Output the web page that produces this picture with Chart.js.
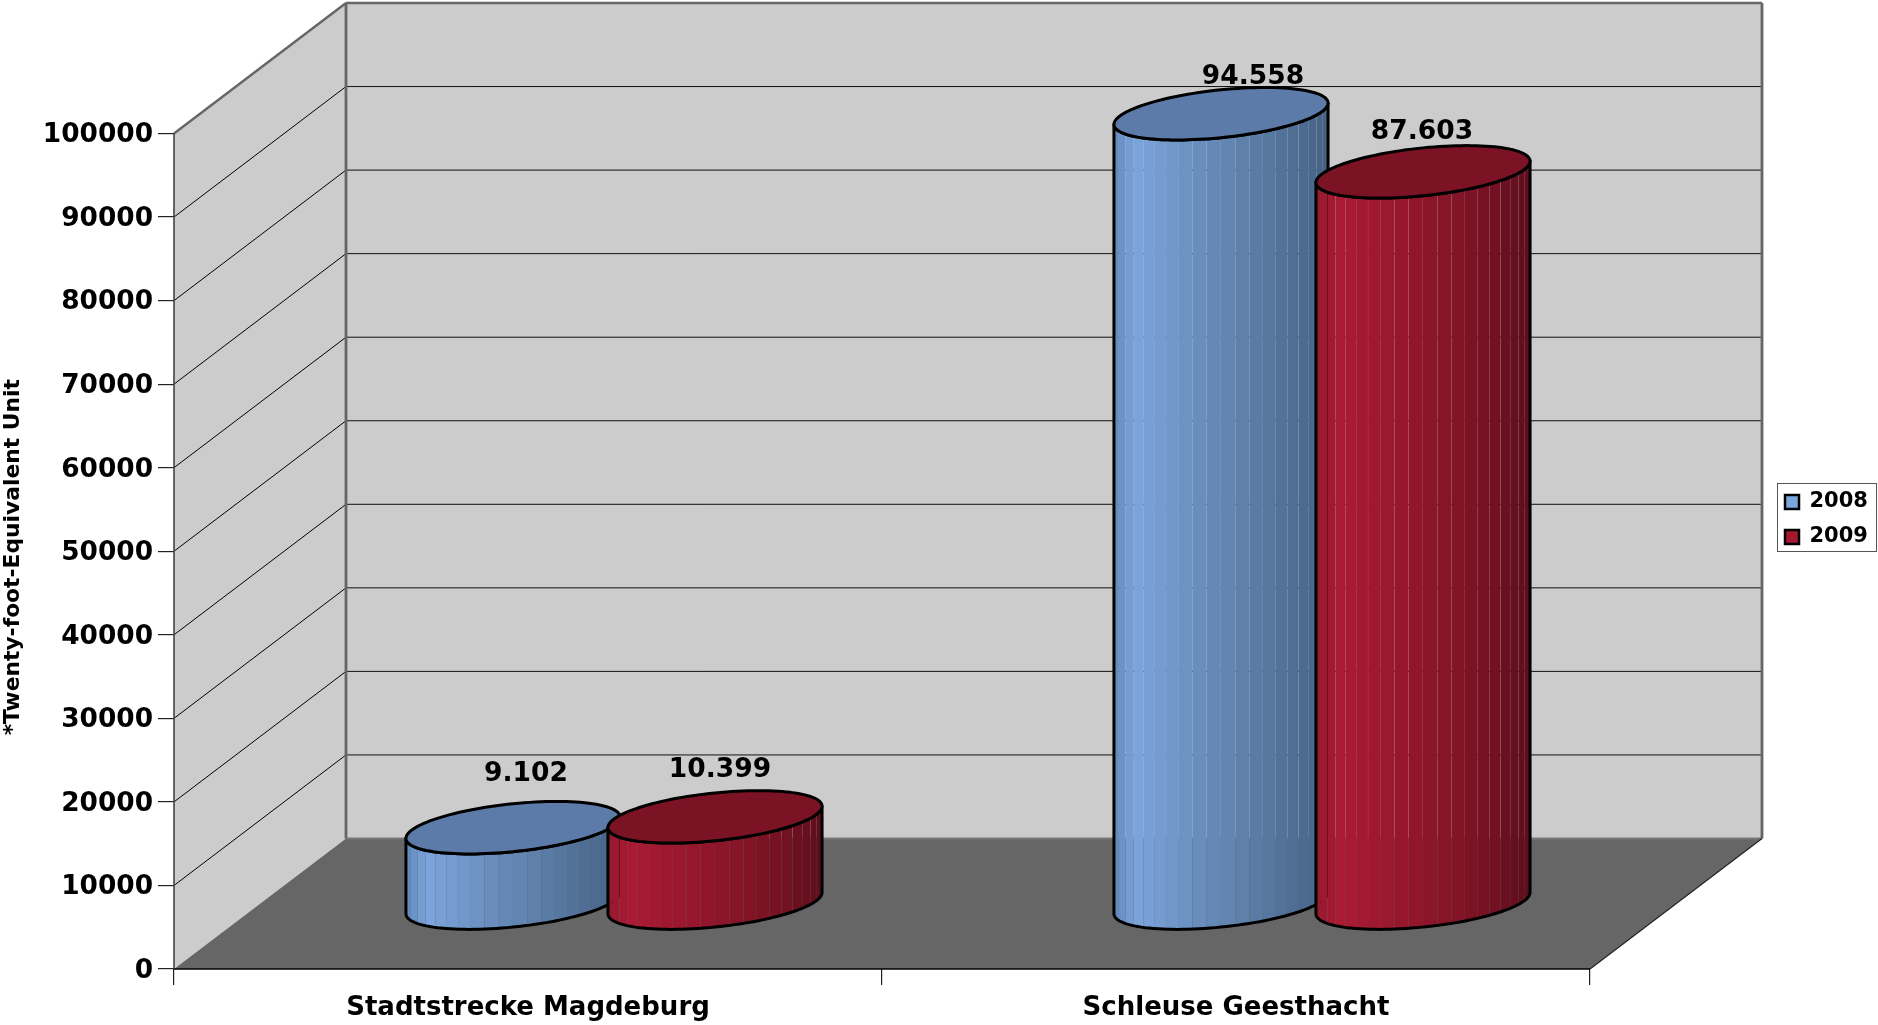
<!DOCTYPE html>
<html><head><meta charset="utf-8">
<style>html,body{margin:0;padding:0;background:#fff}canvas{display:block}</style>
<script src="https://cdn.jsdelivr.net/npm/chart.js@4"></script>
</head><body><canvas id="c" width="1878" height="1025"></canvas>
<script>
const categories = ['Stadtstrecke Magdeburg', 'Schleuse Geesthacht'];
const seriesNames = ['2008', '2009'];
const values2008 = [9102, 94558];
const values2009 = [10399, 87603];
const axisTitle = '*Twenty-foot-Equivalent Unit';

// styling
const FONT = '"DejaVu Sans"';
const DEPTH_X = 172, DEPTH_Y = 130.5;
const labelNudge = [[[13,-54],[32,-37]],[[5,-47],[-1,-40]]];
const sideStops = [
  [[0,[96,136,186]],[0.1,[124,165,220]],[0.35,[108,145,195]],[0.6,[94,128,170]],[1,[70,98,133]]],
  [[0,[150,24,44]],[0.12,[170,26,52]],[0.5,[143,22,42]],[0.8,[118,18,35]],[1,[92,14,28]]]
];
const topColors = ['#5c7ba8', '#7b1324'];
const fills = ['#7ba6dc', '#a5182f'];

function mix(stops, f){
  for(let i=1;i<stops.length;i++){
    if(f<=stops[i][0]){
      const a=stops[i-1],b=stops[i],t=(f-a[0])/(b[0]-a[0]);
      return 'rgb('+a[1].map((v,k)=>Math.round(v+(b[1][k]-v)*t)).join(',')+')';
    }
  }
  return 'rgb('+stops[stops.length-1][1].join(',')+')';
}
function drawCylinder(ctx, cx, yTop, yBase, rx, ds){
  const tilt = rx*0.1, k = rx*0.2237;
  const px = (c,t)=>[cx+rx*Math.cos(t), c - tilt*Math.cos(t) + k*Math.sin(t)];
  const N = 60;
  const side = ()=>{
    ctx.beginPath();
    let p = px(yTop,Math.PI); ctx.moveTo(p[0],p[1]);
    p = px(yBase,Math.PI); ctx.lineTo(p[0],p[1]);
    for(let i=1;i<=N;i++){ p=px(yBase,Math.PI*(1-i/N)); ctx.lineTo(p[0],p[1]); }
    p = px(yTop,0); ctx.lineTo(p[0],p[1]);
    for(let i=1;i<=N;i++){ p=px(yTop,Math.PI*i/N); ctx.lineTo(p[0],p[1]); }
    ctx.closePath();
  };
  ctx.save(); side(); ctx.clip();
  const M = 20, top = yTop-2*k, bot = yBase+2*k;
  const edge = i => -(0.6*Math.cos(Math.PI*i/M) + 0.4*(1-2*i/M));
  for(let i=0;i<M;i++){
    const x0 = cx + rx*edge(i), x1 = cx + rx*edge(i+1);
    ctx.fillStyle = mix(sideStops[ds], ((x0+x1)/2-(cx-rx))/(2*rx));
    ctx.fillRect(x0, top, x1-x0-0.15, bot-top);
  }
  ctx.restore();
  ctx.lineJoin='round'; ctx.strokeStyle='#000'; ctx.lineWidth=3;
  side(); ctx.stroke();
  ctx.beginPath();
  for(let i=0;i<=2*N;i++){ const p=px(yTop,Math.PI*i/N); i?ctx.lineTo(p[0],p[1]):ctx.moveTo(p[0],p[1]); }
  ctx.closePath(); ctx.fillStyle=topColors[ds]; ctx.fill(); ctx.stroke();
}
function line(ctx,x0,y0,x1,y1,color,w){
  ctx.beginPath();ctx.moveTo(x0,y0);ctx.lineTo(x1,y1);ctx.strokeStyle=color;ctx.lineWidth=w;ctx.stroke();
}
const scene = {
  id:'scene',
  beforeLayout(chart){
    const lg = chart.legend;
    if(lg && !lg.__pinned){ const f=lg.fit; lg.fit=function(){f.call(this); this.width=0;}; lg.__pinned=true; }
  },
  afterLayout(chart){
    const lg = chart.legend, P = lg.options.labels.padding;
    lg.left = 1785-P; lg.right = 1877; lg.width = 1877-lg.left;
    lg.top = 491.5-P; lg.bottom = 1025; lg.height = lg.bottom-lg.top;
    const y = chart.scales.y;
    if(!y.__shifted){
      const dt = y.drawTitle;
      y.drawTitle = function(){ const c=this.ctx; c.save(); c.translate(0,6); dt.call(this); c.restore(); };
      y.__shifted = true;
    }
  },
  beforeDatasetsDraw(chart){
    const ctx=chart.ctx, a=chart.chartArea, y=chart.scales.y;
    const L=a.left,R=a.right,B=a.bottom,T=a.top,dx=DEPTH_X,dy=DEPTH_Y;
    ctx.save();
    ctx.fillStyle='#cccccc';
    ctx.beginPath();ctx.moveTo(L,B);ctx.lineTo(L+dx,B-dy);ctx.lineTo(L+dx,T-dy);ctx.lineTo(L,T);ctx.closePath();ctx.fill();
    ctx.fillRect(L+dx,T-dy,R-L,B-T);
    ctx.fillStyle='#666666';
    ctx.beginPath();ctx.moveTo(L,B);ctx.lineTo(L+dx,B-dy);ctx.lineTo(R+dx,B-dy);ctx.lineTo(R,B);ctx.closePath();ctx.fill();
    y.ticks.forEach(t=>{
      if(t.value===0||t.value===y.max) return;
      const p=y.getPixelForValue(t.value);
      line(ctx,L,p,L+dx,p-dy,'#000',1);
      line(ctx,L+dx,p-dy,R+dx,p-dy,'#111',1);
    });
    line(ctx,L+dx,B-dy,R+dx,B-dy,'#777',2);
    line(ctx,L,T,L+dx,T-dy,'#666',2.4);
    line(ctx,L+dx,T-dy,R+dx,T-dy,'#666',2.6);
    line(ctx,L+dx,T-dy,L+dx,B-dy,'#666',2.8);
    line(ctx,R+dx,T-dy,R+dx,B-dy,'#666',2.8);
    line(ctx,L,T,L,B,'#444',1.6);
    line(ctx,L,B,R,B,'#000',1.6);
    line(ctx,R,B,R+dx,B-dy,'#222',1.2);
    chart.data.datasets.forEach((ds,i)=>{
      chart.getDatasetMeta(i).data.forEach(el=>{
        drawCylinder(ctx, el.x+dx/2, el.y-dy/2, el.base-dy/2, el.width/2, i);
      });
    });
    ctx.restore();
  },
  beforeDatasetDraw(){ return false; },
  afterDatasetsDraw(chart){
    const ctx=chart.ctx;
    ctx.save();
    ctx.font='bold 26.5px '+FONT; ctx.fillStyle='#000'; ctx.textAlign='center'; ctx.textBaseline='middle';
    chart.data.datasets.forEach((ds,i)=>{
      chart.getDatasetMeta(i).data.forEach((el,j)=>{
        const n=labelNudge[i][j];
        const txt=String(ds.data[j]).replace(/\B(?=(\d{3})+$)/g,'.');
        ctx.fillText(txt, el.x+DEPTH_X/2+n[0], el.y-DEPTH_Y/2+n[1]);
      });
    });
    ctx.restore();
  },
  afterDraw(chart){
    const ctx=chart.ctx; ctx.save();
    ctx.strokeStyle='#555'; ctx.lineWidth=1; ctx.strokeRect(1777.5,483.5,99,68);
    ctx.restore();
  }
};
new Chart(document.getElementById('c'),{
  type:'bar',
  plugins:[scene],
  data:{labels:categories,datasets:[
    {label:seriesNames[0],data:values2008,backgroundColor:fills[0],borderColor:'#000',borderWidth:2.5,categoryPercentage:0.5706,barPercentage:1.06},
    {label:seriesNames[1],data:values2009,backgroundColor:fills[1],borderColor:'#000',borderWidth:2.5,categoryPercentage:0.5706,barPercentage:1.06}
  ]},
  options:{
    responsive:false,animation:false,
    layout:{padding:{left:0,right:288,top:133.5,bottom:0}},
    plugins:{
      tooltip:{enabled:false},
      title:{display:false},
      legend:{position:'right',align:'start',labels:{color:'#000',boxWidth:14,boxHeight:14,padding:14,font:{family:FONT,size:21,weight:'bold'}}}
    },
    scales:{
      x:{
        offset:true,
        afterFit(s){s.height=56;},
        grid:{offset:true,drawOnChartArea:false,drawTicks:true,tickLength:16,color:'#222',lineWidth:1.2},
        border:{display:false},
        ticks:{color:'#000',padding:8,maxRotation:0,font:{family:FONT,size:26,weight:'bold'}}
      },
      y:{
        min:0,max:100000,
        afterFit(s){s.width=174;},
        grid:{drawOnChartArea:false,drawTicks:true,tickLength:16,color:'#222',lineWidth:1.2},
        border:{display:false},
        ticks:{stepSize:10000,color:'#000',padding:5,labelOffset:2,callback:v=>String(v),font:{family:FONT,size:26.4,weight:'bold'}},
        title:{display:true,text:axisTitle,color:'#000',padding:0,font:{family:FONT,size:21.8,weight:'bold'}}
      }
    }
  }
});
</script></body></html>
